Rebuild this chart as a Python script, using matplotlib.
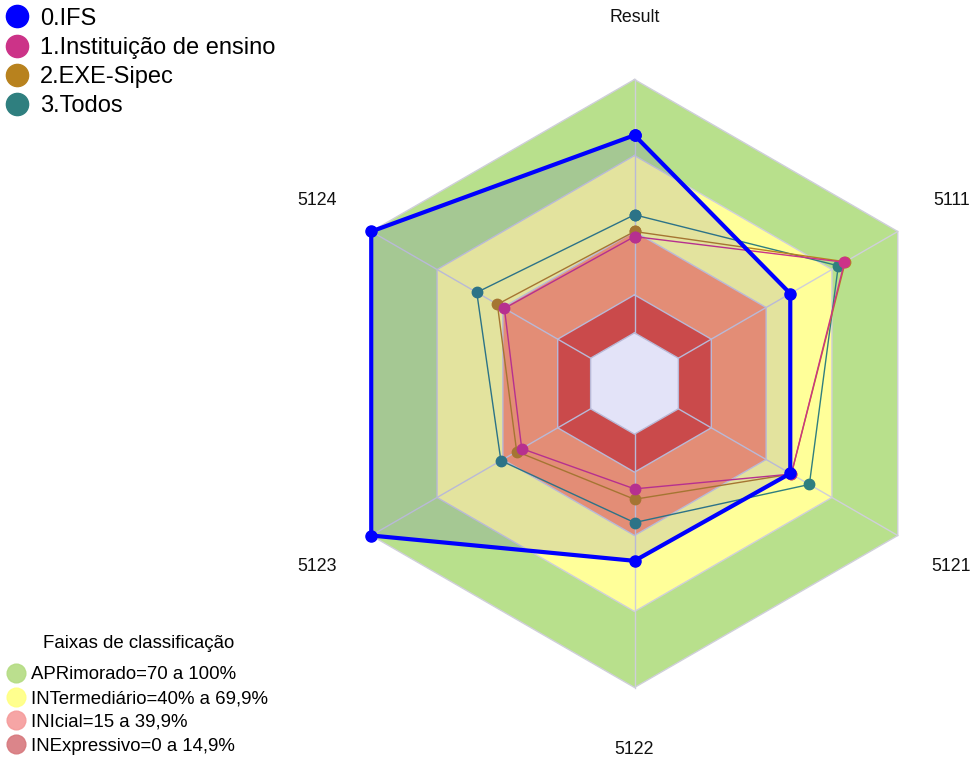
import numpy as np
import matplotlib
matplotlib.use("Agg")
import matplotlib.pyplot as plt
from matplotlib.lines import Line2D

plt.rcParams['font.family'] = ['Liberation Sans', 'DejaVu Sans']

# ---- data ----
categories = ["Result", "5111", "5121", "5122", "5123", "5124"]
series_names = ["0.IFS", "1.Instituição de ensino", "2.EXE-Sipec", "3.Todos"]
ifs = [78, 51, 51, 50, 100, 100]
instituicao = [38, 75.7, 51.5, 21.6, 31.4, 39.3]
exe_sipec = [40, 76.1, 51.5, 25.7, 33.7, 42.5]
todos = [46.6, 72.9, 59.7, 34.9, 40.9, 51.9]

band_title = "Faixas de classificação"
band_labels = ["APRimorado=70 a 100%", "INTermediário=40% a 69,9%",
               "INIcial=15 a 39,9%", "INExpressivo=0 a 14,9%"]
band_limits = [100, 70, 40, 15, 0]

# ---- styles ----
series_colors = ["#0000FF", "#CC3388", "#B8821E", "#2F7F7F"]
band_colors = ["#B8E08C", "#FFFF99", "#FF9D6B", "#E2513A", "#FFFFFF"]
legend_band_colors = ["#B4DC82", "#FFFF82", "#F59B9B", "#D7787D"]

fig = plt.figure(figsize=(9.73, 7.6), dpi=100)
ax = fig.add_axes([330.5 / 973, 72.5 / 760, 608 / 973, 608 / 760], projection='polar')
ax.set_theta_offset(np.pi / 2)
ax.set_theta_direction(-1)
ax.set_ylim(-20, 100)
ax.spines['polar'].set_visible(False)
ax.grid(False)
ax.set_xticks([])
ax.set_yticks([])
ax.patch.set_alpha(0)

n = len(categories)
theta = np.arange(n) * 2 * np.pi / n
theta_c = np.append(theta, theta[0])

def closed(vals):
    return list(vals) + [vals[0]]

# bands
for lim, col in zip(band_limits, band_colors):
    ax.fill(theta_c, [lim] * (n + 1), color=col, lw=0, zorder=1)

# grid rings and spokes
grid_col = "#CFCFDA"
for lim in band_limits:
    ax.plot(theta_c, [lim] * (n + 1), color=grid_col, lw=1.0, zorder=2, clip_on=False)
for t in theta:
    ax.plot([t, t], [0, 100], color=grid_col, lw=1.0, zorder=2, clip_on=False)

# other series (drawn below IFS fill)
others = [(todos, series_colors[3]), (exe_sipec, series_colors[2]), (instituicao, series_colors[1])]
z = 3
for vals, col in others:
    ax.plot(theta_c, closed(vals), color=col, lw=1.0, marker='o', markersize=7.5,
            zorder=z, clip_on=False)
    z += 1

# IFS fill overlay and line
ax.fill(theta_c, closed(ifs), color=(30 / 255, 30 / 255, 200 / 255), alpha=0.12, lw=0, zorder=7)
ax.plot(theta_c, closed(ifs), color=series_colors[0], lw=3.0, marker='o', markersize=8,
        zorder=8, clip_on=False)

# category labels
for t, lab in zip(theta, categories):
    ax.text(t, 124.5, lab, ha='center', va='center', fontsize=12.8, color='#111111')

# series legend
handles = [Line2D([], [], ls='', marker='o', markersize=16, color=c) for c in series_colors]
fig.legend(handles, series_names, loc='upper left', bbox_to_anchor=(2 / 973, 1 - 3 / 760),
           frameon=False, fontsize=17, handlelength=0.9, handletextpad=0.5,
           labelspacing=0.3, borderaxespad=0.05, borderpad=0.15)

# band legend
bh = [Line2D([], [], ls='', marker='o', markersize=13.5, color=c, alpha=0.9) for c in legend_band_colors]
fig.legend(bh, band_labels, loc='lower left',
           bbox_to_anchor=(0.0, -2 / 760), frameon=False, fontsize=13.4,
           handlelength=0.9, handletextpad=0.35, labelspacing=0.36, borderaxespad=0.2,
           borderpad=0.2)
fig.text(139 / 973, 1 - 643 / 760, band_title, ha='center', va='center', fontsize=13.4)

fig.savefig("out.png", dpi=100)
